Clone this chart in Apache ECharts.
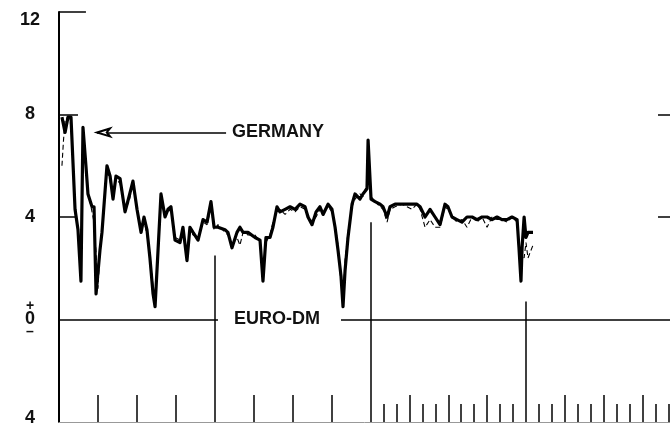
<!DOCTYPE html>
<html>
<head>
<meta charset="utf-8">
<script src="https://cdn.jsdelivr.net/npm/echarts@6/dist/echarts.min.js"></script>
<style>
  html, body { margin: 0; padding: 0; background: #fff; }
  #chart { width: 670px; height: 423px; }
</style>
</head>
<body>
<div id="chart"></div>
<script>
// x is in years from the start of the plot, y is the interest-rate differential
var germany = [
  [0.019,7.9],[0.039,7.3],[0.058,7.9],[0.077,7.9],[0.103,4.3],[0.122,3.5],[0.141,1.5],[0.154,7.5],
  [0.173,6.0],[0.186,4.9],[0.212,4.4],[0.225,4.4],[0.238,1.0],[0.263,2.7],[0.276,3.4],[0.308,6.0],
  [0.328,5.6],[0.347,4.7],[0.366,5.6],[0.392,5.5],[0.424,4.2],[0.450,4.8],[0.475,5.4],[0.501,4.3],
  [0.527,3.4],[0.546,4.0],[0.565,3.5],[0.584,2.4],[0.604,1.0],[0.617,0.5],[0.636,2.7],[0.655,4.9],
  [0.681,4.0],[0.700,4.3],[0.719,4.4],[0.745,3.1],[0.777,3.0],[0.796,3.6],[0.822,2.3],[0.841,3.6],
  [0.861,3.4],[0.893,3.1],[0.925,3.9],[0.951,3.8],[0.976,4.6],[0.996,3.6],[1.021,3.6],[1.066,3.5],
  [1.085,3.4],[1.111,2.8],[1.143,3.4],[1.162,3.6],[1.182,3.4],[1.214,3.4],[1.259,3.2],[1.291,3.1],
  [1.310,1.5],[1.329,3.2],[1.355,3.2],[1.374,3.6],[1.400,4.4],[1.419,4.2],[1.452,4.3],[1.484,4.4],
  [1.516,4.3],[1.548,4.5],[1.580,4.4],[1.599,4.0],[1.625,3.7],[1.651,4.2],[1.676,4.4],[1.696,4.1],
  [1.728,4.5],[1.753,4.3],[1.773,3.6],[1.792,2.7],[1.811,1.7],[1.824,0.5],[1.837,1.9],[1.856,3.2],
  [1.882,4.5],[1.901,4.9],[1.933,4.7],[1.952,4.9],[1.978,5.1],[1.985,7.0],[2.004,4.7],[2.030,4.6],
  [2.062,4.5],[2.081,4.4],[2.107,4.0],[2.126,4.4],[2.158,4.5],[2.203,4.5],[2.235,4.5],[2.267,4.5],
  [2.299,4.5],[2.319,4.4],[2.351,4.0],[2.383,4.3],[2.415,4.0],[2.447,3.7],[2.479,4.5],[2.498,4.4],
  [2.524,4.0],[2.556,3.9],[2.588,3.8],[2.620,4.0],[2.653,4.0],[2.685,3.9],[2.717,4.0],[2.749,4.0],
  [2.781,3.9],[2.813,4.0],[2.845,3.9],[2.877,3.9],[2.909,4.0],[2.942,3.9],[2.954,2.8],[2.967,1.5],
  [2.974,2.8],[2.987,4.0],[2.999,3.2],[3.012,3.4],[3.044,3.4]
];

var euroDm = [
  [0.019,6.0],[0.029,7.0],[0.039,7.8],[0.058,7.9],[0.077,7.6],[0.103,4.5],[0.122,3.6],[0.141,1.8],
  [0.154,7.3],[0.173,6.1],[0.186,5.0],[0.212,4.2],[0.225,3.8],[0.238,2.6],[0.250,1.2],[0.263,2.6],
  [0.276,3.5],[0.308,5.8],[0.328,5.4],[0.347,4.8],[0.366,5.5],[0.392,5.3],[0.424,4.3],[0.450,4.6],
  [0.475,5.3],[0.501,4.2],[0.527,3.5],[0.546,3.9],[0.565,3.3],[0.584,2.5],[0.604,1.3],[0.617,0.7],
  [0.636,2.5],[0.655,4.7],[0.681,4.1],[0.700,4.2],[0.719,4.3],[0.745,3.2],[0.777,3.1],[0.796,3.5],
  [0.822,2.5],[0.841,3.5],[0.861,3.3],[0.893,3.2],[0.925,3.8],[0.951,3.7],[0.976,4.4],[0.996,3.5],
  [1.021,3.7],[1.066,3.4],[1.085,3.3],[1.111,2.9],[1.143,3.2],[1.162,2.9],[1.182,3.4],[1.214,3.3],
  [1.259,3.3],[1.291,3.0],[1.310,1.8],[1.329,3.0],[1.355,3.3],[1.374,3.8],[1.400,4.2],[1.419,4.3],
  [1.452,4.1],[1.484,4.3],[1.516,4.2],[1.548,4.4],[1.580,4.3],[1.599,4.1],[1.625,3.8],[1.651,4.0],
  [1.676,4.3],[1.696,4.2],[1.728,4.4],[1.753,4.2],[1.773,3.7],[1.792,2.9],[1.811,1.4],[1.824,0.8],
  [1.837,2.3],[1.856,3.4],[1.882,4.4],[1.901,4.7],[1.933,4.9],[1.952,4.8],[1.978,5.3],[1.985,6.6],
  [2.004,4.8],[2.030,4.6],[2.062,4.4],[2.081,4.3],[2.107,3.8],[2.126,4.3],[2.158,4.4],[2.203,4.5],
  [2.235,4.4],[2.267,4.3],[2.299,4.5],[2.319,4.3],[2.351,3.6],[2.383,3.9],[2.415,3.6],[2.447,3.6],
  [2.479,4.4],[2.498,4.3],[2.524,4.0],[2.556,3.8],[2.588,3.9],[2.620,3.6],[2.653,4.0],[2.685,3.8],
  [2.717,4.0],[2.749,3.6],[2.781,4.0],[2.813,3.9],[2.845,3.9],[2.877,3.8],[2.909,4.0],[2.942,3.8],
  [2.954,2.6],[2.967,1.8],[2.974,2.6],[2.987,2.4],[2.999,3.0],[3.012,2.4],[3.044,2.9]
];

var yTicks = [-4, 0, 4, 8, 12];
var xMax = 3.924;

// year dividers: [year, top of the line]
var yearLines = [[1, 2.5], [2, 3.8], [3, 0.7]];
// quarterly ticks in the first two years
var quarterTicks = [0.25, 0.5, 0.75, 1.25, 1.5, 1.75];
// monthly ticks in the later years (3,6,9 are the longer quarter ticks)
var monthYears = [2, 3];
var monthNums = [1, 2, 3, 4, 5, 6, 7, 8, 9, 10, 11];

var textFont = { fontSize: 18, fontWeight: 'bold', color: '#111', fontFamily: 'Liberation Sans' };

var seg = function (a, b, extra) {
  var item = [{ coord: a }, { coord: b }];
  if (extra) Object.assign(item[0], extra);
  return item;
};

var marks = [];
marks.push(seg([0, 12], [0.173, 12]));
marks.push(seg([0, 8], [0.122, 8]));
marks.push(seg([0, 4], [0.116, 4]));
marks.push(seg([3.847, 8], [xMax, 8]));
marks.push(seg([3.847, 4], [xMax, 4]));
marks.push(seg([0, 0], [1.021, 0], {
  label: Object.assign({ show: true, position: 'end', distance: 16, formatter: 'EURO-DM' }, textFont)
}));
marks.push(seg([1.811, 0], [xMax, 0]));
yearLines.forEach(function (d) { marks.push(seg([d[0], d[1]], [d[0], -4])); });
quarterTicks.forEach(function (x) { marks.push(seg([x, -4], [x, -2.95])); });
monthYears.forEach(function (yr) {
  monthNums.forEach(function (m) {
    var top = m % 3 === 0 ? -2.95 : -3.3;
    marks.push(seg([yr + m / 12, -4], [yr + m / 12, top]));
  });
});
// GERMANY arrow
marks.push([
  { coord: [1.073, 7.3], symbol: 'none',
    label: Object.assign({ show: true, position: 'start', distance: 6, formatter: 'GERMANY' }, textFont) },
  { coord: [0.244, 7.3], symbol: 'emptyArrow', symbolSize: [6, 13] }
]);

var chart = echarts.init(document.getElementById('chart'));
chart.setOption({
  animation: false,
  backgroundColor: '#fff',
  grid: { left: 59, right: 0, top: 12, bottom: 1, outerBoundsMode: 'none', containLabel: false },
  xAxis: {
    type: 'value', min: 0, max: xMax,
    axisLine: { show: true, onZero: false, lineStyle: { color: '#999', width: 1 } },
    axisTick: { show: false }, axisLabel: { show: false }, splitLine: { show: false }
  },
  yAxis: {
    type: 'value', min: -4, max: 12, interval: 4,
    axisLine: { show: true, onZero: false, lineStyle: { color: '#000', width: 2 } },
    axisTick: { show: false }, splitLine: { show: false },
    axisLabel: Object.assign({
      margin: 29, align: 'center',
      formatter: function (v) {
        if (v === 0) return '{s|+}\n{n|0}\n{s|–}';
        if (v === 12) return '{t|12}';
        if (v === -4) return '{b|4}';
        return String(Math.abs(v));
      },
      rich: {
        s: { fontSize: 14, lineHeight: 12, fontWeight: 'bold', color: '#111', fontFamily: 'Liberation Sans' },
        n: { fontSize: 18, lineHeight: 14, fontWeight: 'bold', color: '#111', fontFamily: 'Liberation Sans' },
        t: { fontSize: 18, fontWeight: 'bold', color: '#111', fontFamily: 'Liberation Sans', padding: [16, 0, 0, 0] },
        b: { fontSize: 18, fontWeight: 'bold', color: '#111', fontFamily: 'Liberation Sans', padding: [0, 0, 8, 0] }
      }
    }, textFont)
  },
  series: [
    {
      name: 'Euro-DM', type: 'line', data: euroDm, symbol: 'none',
      lineStyle: { color: '#000', width: 1.1, type: [5, 3] }, z: 3
    },
    {
      name: 'Germany', type: 'line', data: germany, symbol: 'none',
      lineStyle: { color: '#000', width: 3.2, join: 'round' }, z: 4,
      markLine: {
        silent: true, symbol: 'none', animation: false,
        lineStyle: { color: '#000', width: 1.5, type: 'solid' },
        label: { show: false },
        data: marks
      }
    }
  ]
});
</script>
</body>
</html>
